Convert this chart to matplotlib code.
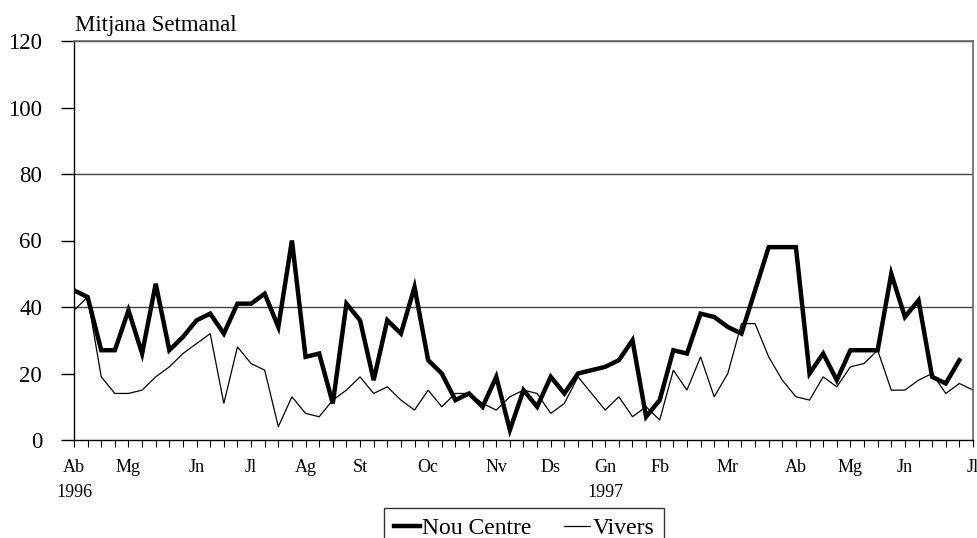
import matplotlib
matplotlib.use("Agg")
import matplotlib.pyplot as plt
from matplotlib.transforms import blended_transform_factory

plt.rcParams['font.family'] = ['Liberation Serif', 'DejaVu Serif']

# Weekly values, April 1996 - July 1997
nou_centre = [45, 43, 27, 27, 39, 26, 47, 27, 31, 36, 38, 32, 41, 41, 44, 34, 60, 25, 26, 11,
              41, 36, 18, 36, 32, 46, 24, 20, 12, 14, 10, 19, 3, 15, 10, 19, 14, 20, 21, 22,
              24, 30, 7, 12, 27, 26, 38, 37, 34, 32, 45, 58, 58, 58, 20, 26, 18, 27, 27, 27,
              50, 37, 42, 19, 17, 24]
vivers = [39, 43, 19, 14, 14, 15, 19, 22, 26, 29, 32, 11, 28, 23, 21, 4, 13, 8, 7, 12,
          15, 19, 14, 16, 12, 9, 15, 10, 14, 14, 11, 9, 13, 15, 14, 8, 11, 19, 14, 9,
          13, 7, 10, 6, 21, 15, 25, 13, 20, 35, 35, 25, 18, 13, 12, 19, 16, 22, 23, 27,
          15, 15, 18, 20, 14, 17, 15]
month_labels = ['Ab', 'Mg', 'Jn', 'Jl', 'Ag', 'St', 'Oc', 'Nv', 'Ds', 'Gn', 'Fb', 'Mr',
                'Ab', 'Mg', 'Jn', 'Jl']
month_weeks = [0, 4, 9, 13, 17, 21, 26, 31, 35, 39, 43, 48, 53, 57, 61, 66]
year_labels = ['1996', '1997']
year_weeks = [0, 39]
series_names = ['Nou Centre', 'Vivers']

W, H = 978, 538
fig = plt.figure(figsize=(W / 100, H / 100), dpi=100)
ax = fig.add_axes([74 / W, 1 - 440 / H, (973 - 74) / W, (440 - 41) / H])

ax.plot(range(len(nou_centre)), nou_centre, color='black', lw=3.2,
        solid_joinstyle='miter', label=series_names[0], zorder=3)
ax.plot(range(len(vivers)), vivers, color='black', lw=0.9,
        solid_joinstyle='miter', label=series_names[1], zorder=2)

ax.set_xlim(0, 66)
ax.set_ylim(0, 120)

# gridlines at 40, 80 (120 is the top)
for g in [40, 80, 120]:
    ax.axhline(g, color='#444444', lw=1.0, zorder=1)

for s in ['top', 'right']:
    ax.spines[s].set_color('#666666')
    ax.spines[s].set_linewidth(1.2)
for s in ['left', 'bottom']:
    ax.spines[s].set_color('black')
    ax.spines[s].set_linewidth(1.0)

ax.set_yticks(range(0, 121, 20))
ax.tick_params(axis='y', direction='out', length=9.5, width=1, pad=13.5,
               labelsize=16.5)

ax.set_xticks(month_weeks)
ax.set_xticklabels(month_labels)
ax.set_xticks(range(0, 67), minor=True)
ax.tick_params(axis='x', which='both', direction='out', length=5, width=0.8)
ax.tick_params(axis='x', which='major', pad=9, labelsize=13)

trans = blended_transform_factory(ax.transData, ax.transAxes)
for lab, w in zip(year_labels, year_weeks):
    ax.text(w, -0.132, lab, transform=trans, ha='center', va='center', fontsize=13)

fig.text(75 / W, 1 - 31 / H, 'Mitjana Setmanal', fontsize=16.5, va='baseline', ha='left')

leg = fig.legend(loc='upper center', bbox_to_anchor=(524 / W, 1 - 508 / H), ncol=2,
                 fontsize=17, frameon=True, fancybox=False, handlelength=1.1,
                 handletextpad=0.1, columnspacing=1.4, borderpad=0.4,
                 borderaxespad=0)
leg.get_frame().set_edgecolor('black')
leg.get_frame().set_linewidth(1.0)

fig.savefig('out.png', dpi=100)
